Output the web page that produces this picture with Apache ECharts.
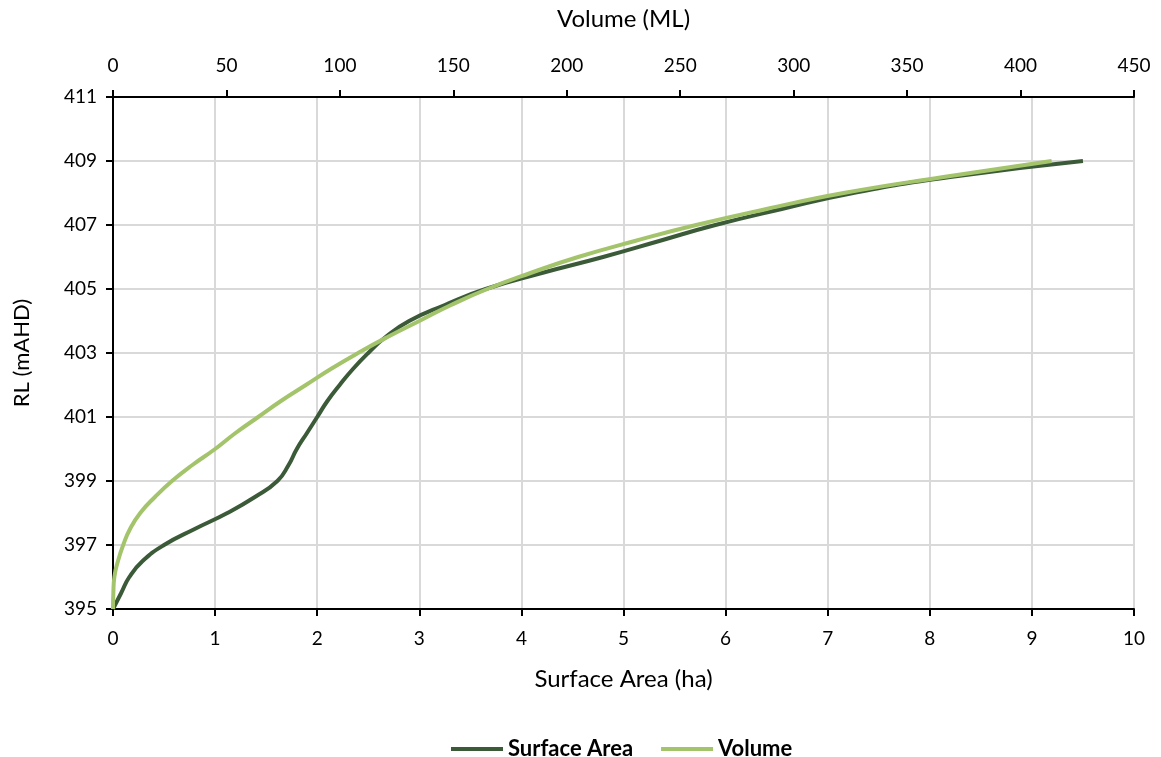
<!DOCTYPE html>
<html>
<head>
<meta charset="utf-8">
<script src="https://cdn.jsdelivr.net/npm/echarts@6/dist/echarts.min.js"></script>
<style>
html,body{margin:0;padding:0;background:#fff;}
#chart{width:1161px;height:757px;}
</style>
</head>
<body>
<div id="chart"></div>
<script>
// RL levels (mAHD)
const rlLevels = [395, 395.5, 396, 396.5, 397, 397.5, 398, 398.5, 399, 399.5, 400, 400.5, 401, 401.5, 402, 402.5, 403, 403.5, 404, 404.5, 405, 405.5, 406, 406.5, 407, 407.5, 408, 408.5, 409];
// Surface area (ha) at each RL
const surfaceArea = [0, 0.08, 0.16, 0.29, 0.5, 0.8, 1.12, 1.39, 1.61, 1.72, 1.80, 1.90, 2.0, 2.1, 2.22, 2.35, 2.5, 2.67, 2.9, 3.25, 3.65, 4.2, 4.8, 5.35, 5.9, 6.55, 7.25, 8.2, 9.5];
// Volume (ML) at each RL
const volume = [0, 0.15, 0.6, 2.2, 4.5, 7.5, 12, 18.5, 26, 35, 45, 54, 64, 74, 85, 96, 108, 121, 135, 149, 165, 184, 205, 230, 257, 288, 322, 366, 413.7];

const font = 'Lato, "Open Sans", sans-serif';
const txt = '#000';

const saData = rlLevels.map((r, i) => [surfaceArea[i], r]);
const volData = rlLevels.map((r, i) => [volume[i], r]);

const chart = echarts.init(document.getElementById('chart'));
chart.setOption({
  backgroundColor: '#fff',
  animation: false,
  textStyle: { fontFamily: font },
  grid: { left: 113, right: 27, top: 97, bottom: 148, containLabel: false },
  legend: {
    top: 733,
    left: 446,
    icon: 'rect',
    itemWidth: 52,
    itemHeight: 4,
    itemGap: 28,
    textStyle: { fontFamily: font, fontSize: 22, fontWeight: 'bold', color: '#000' },
    data: ['Surface Area', 'Volume']
  },
  xAxis: [
    {
      type: 'value', position: 'bottom', min: 0, max: 10, interval: 1,
      name: 'Surface Area (ha)', nameLocation: 'middle', nameGap: 58,
      nameTextStyle: { fontFamily: font, fontSize: 24, color: txt },
      axisLine: { show: true, onZero: false, lineStyle: { color: '#000', width: 2 } },
      axisTick: { show: true, inside: false, length: 7, lineStyle: { color: '#000', width: 2 } },
      axisLabel: { fontFamily: font, fontSize: 19, color: txt, margin: 20 },
      splitLine: { show: true, lineStyle: { color: '#d9d9d9', width: 2 } }
    },
    {
      type: 'value', position: 'top', min: 0, max: 450, interval: 50,
      name: 'Volume (ML)', nameLocation: 'middle', nameGap: 66,
      nameTextStyle: { fontFamily: font, fontSize: 24, color: txt },
      axisLine: { show: true, onZero: false, lineStyle: { color: '#000', width: 2 } },
      axisTick: { show: true, inside: false, length: 7, lineStyle: { color: '#000', width: 2 } },
      axisLabel: { fontFamily: font, fontSize: 19, color: txt, margin: 22 },
      splitLine: { show: false }
    }
  ],
  yAxis: {
    type: 'value', min: 395, max: 411, interval: 2,
    name: 'RL (mAHD)', nameLocation: 'middle', nameGap: 80, nameRotate: 90,
    nameTextStyle: { fontFamily: font, fontSize: 22, color: txt },
    axisLine: { show: true, onZero: false, lineStyle: { color: '#000', width: 2 } },
    axisTick: { show: true, inside: false, length: 7, lineStyle: { color: '#000', width: 2 } },
    axisLabel: { fontFamily: font, fontSize: 19, color: txt, margin: 16 },
    splitLine: { show: true, lineStyle: { color: '#d9d9d9', width: 2 } }
  },
  series: [
    {
      name: 'Surface Area', type: 'line', xAxisIndex: 0, yAxisIndex: 0,
      data: saData, smooth: 0.5, showSymbol: false, symbol: 'none',
      lineStyle: { color: '#3b5a38', width: 4 }, itemStyle: { color: '#3b5a38' },
      z: 3
    },
    {
      name: 'Volume', type: 'line', xAxisIndex: 1, yAxisIndex: 0,
      data: volData, smooth: 0.5, showSymbol: false, symbol: 'none',
      lineStyle: { color: '#a3c46b', width: 4 }, itemStyle: { color: '#a3c46b' },
      z: 4
    }
  ]
});
</script>
</body>
</html>
